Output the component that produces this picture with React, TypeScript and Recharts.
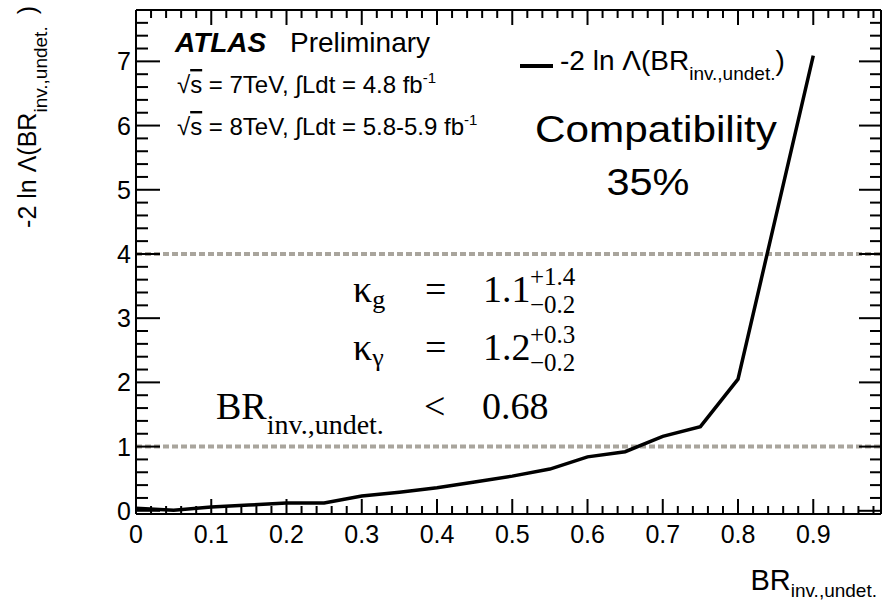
import { LineChart, Line, XAxis, YAxis, ReferenceLine } from "recharts"

// scan points of the profile likelihood
const brValues = [0, 0.05, 0.1, 0.15, 0.2, 0.25, 0.3, 0.35, 0.4, 0.45, 0.5, 0.55, 0.6, 0.65, 0.7, 0.75, 0.8, 0.85, 0.9]
const nllValues = [0.04, 0.01, 0.06, 0.09, 0.12, 0.12, 0.23, 0.29, 0.36, 0.45, 0.54, 0.65, 0.84, 0.92, 1.16, 1.31, 2.05, 4.57, 7.09]

const xTicks = [0, 0.1, 0.2, 0.3, 0.4, 0.5, 0.6, 0.7, 0.8, 0.9]
const yTicks = [0, 1, 2, 3, 4, 5, 6, 7]
const refLevels = [1, 4]

const xDomain: [number, number] = [0, 0.99]
const yDomain: [number, number] = [-0.05, 7.8]

// minor tick positions (ROOT style: 5 subdivisions)
const range = (start: number, stop: number, step: number) =>
  Array.from({ length: Math.round((stop - start) / step) + 1 }, (_, i) => +(start + i * step).toFixed(3))
const xAllTicks = range(0, 0.98, 0.02)
const yAllTicks = range(0, 7.8, 0.2)

const data = brValues.map((br, i) => ({ br, nll: nllValues[i] }))

const sans = "'Liberation Sans', Arial, Helvetica, sans-serif"
const serif = "'Liberation Serif', 'Times New Roman', serif"
const frame = { stroke: "#000", strokeWidth: 2 }

// ticks point inwards, so draw them ourselves
function BottomTick({ x, y, payload }: any) {
  const major = xTicks.includes(payload.value)
  return (
    <g>
      <line x1={x} x2={x} y1={y} y2={y - (major ? 15 : 8)} stroke="#000" strokeWidth={2} />
      {major && (
        <text x={x} y={y + 29} textAnchor="middle" fontSize={25} fill="#000">{payload.value}</text>
      )}
    </g>
  )
}

function TopTick({ x, y, payload }: any) {
  const major = xTicks.includes(payload.value)
  return <line x1={x} x2={x} y1={y} y2={y + (major ? 15 : 8)} stroke="#000" strokeWidth={2} />
}

function LeftTick({ x, y, payload }: any) {
  const major = yTicks.includes(payload.value)
  return (
    <g>
      <line x1={x} x2={x + (major ? 24 : 12)} y1={y} y2={y} stroke="#000" strokeWidth={2} />
      {major && (
        <text x={x - 5} y={y + 9} textAnchor="end" fontSize={25} fill="#000">{payload.value}</text>
      )}
    </g>
  )
}

function RightTick({ x, y, payload }: any) {
  const major = yTicks.includes(payload.value)
  return <line x1={x} x2={x - (major ? 22 : 11)} y1={y} y2={y} stroke="#000" strokeWidth={2} />
}

export default function App() {
  return (
    <div style={{ position: "absolute", left: 0, top: 0, width: 885, height: 607, background: "#fff", fontFamily: sans }}>
      <LineChart width={885} height={607} data={data} margin={{ top: 0, right: 0, bottom: 53, left: 0 }}>
        <XAxis xAxisId="x" type="number" dataKey="br" domain={xDomain} allowDataOverflow ticks={xAllTicks} interval={0}
          tick={<BottomTick />} tickSize={0} tickMargin={0} tickLine={false} axisLine={frame} height={40} />
        <XAxis xAxisId="xTop" orientation="top" type="number" dataKey="br" domain={xDomain} allowDataOverflow ticks={xAllTicks} interval={0}
          tick={<TopTick />} tickSize={0} tickMargin={0} tickLine={false} axisLine={frame} height={10} />
        <YAxis yAxisId="y" type="number" dataKey="nll" domain={yDomain} allowDataOverflow ticks={yAllTicks} interval={0}
          tick={<LeftTick />} tickSize={0} tickMargin={0} tickLine={false} axisLine={frame} width={136} />
        <YAxis yAxisId="yRight" orientation="right" type="number" dataKey="nll" domain={yDomain} allowDataOverflow ticks={yAllTicks} interval={0}
          tick={<RightTick />} tickSize={0} tickMargin={0} tickLine={false} axisLine={frame} width={4} />

        {refLevels.map((v) => (
          <ReferenceLine key={v} xAxisId="x" yAxisId="y" y={v} stroke="#a9a59d" strokeWidth={4} strokeDasharray="6 3" />
        ))}

        <Line xAxisId="x" yAxisId="y" type="linear" dataKey="nll" stroke="#000" strokeWidth={3.5} dot={false}
          isAnimationActive={false} />
      </LineChart>

      {/* labels and annotations */}
      <svg width={885} height={607} style={{ position: "absolute", left: 0, top: 0, pointerEvents: "none" }}>
        <text transform="translate(36,6) rotate(-90)" textAnchor="end" fontSize={25}>
          -2 ln Λ(BR<tspan fontSize={19} dy={11}>inv.,undet.</tspan>
          <tspan fontSize={25} dy={-11} dx={12}>)</tspan>
        </text>
        <text x={877} y={590} textAnchor="end" fontSize={29}>
          BR<tspan fontSize={19} dy={7}>inv.,undet.</tspan>
        </text>

        <text x={175} y={52} fontSize={28} fontWeight="bold" fontStyle="italic">ATLAS</text>
        <text x={290} y={52} fontSize={28}>Preliminary</text>
        <text x={177} y={93} fontSize={24}>
          √<tspan textDecoration="overline">s</tspan> = 7TeV, ∫Ldt = 4.8 fb<tspan fontSize={15} dy={-10}>-1</tspan>
        </text>
        <text x={177} y={135} fontSize={24}>
          √<tspan textDecoration="overline">s</tspan> = 8TeV, ∫Ldt = 5.8-5.9 fb<tspan fontSize={15} dy={-10}>-1</tspan>
        </text>

        <line x1={520} x2={553} y1={66} y2={66} stroke="#000" strokeWidth={4} />
        <text x={560} y={70} fontSize={28}>
          -2 ln Λ(BR<tspan fontSize={19} dy={10}>inv.,undet.</tspan>
          <tspan fontSize={28} dy={-10}>)</tspan>
        </text>

        <text x={656} y={142} fontSize={37} textAnchor="middle" textLength={242} lengthAdjust="spacingAndGlyphs">Compatibility</text>
        <text x={648} y={195} fontSize={37} textAnchor="middle" textLength={83} lengthAdjust="spacingAndGlyphs">35%</text>

        <g fontFamily={serif} fill="#000">
          <text x={353} y={302} fontSize={38}>κ<tspan fontSize={26} dy={6}>g</tspan></text>
          <text x={425} y={302} fontSize={38}>=</text>
          <text x={483} y={302} fontSize={38}>1.1</text>
          <text x={530} y={285} fontSize={25}>+1.4</text>
          <text x={530} y={313} fontSize={25}>−0.2</text>

          <text x={353} y={360} fontSize={38}>κ<tspan fontSize={26} dy={6}>γ</tspan></text>
          <text x={425} y={360} fontSize={38}>=</text>
          <text x={483} y={360} fontSize={38}>1.2</text>
          <text x={530} y={343} fontSize={25}>+0.3</text>
          <text x={530} y={371} fontSize={25}>−0.2</text>

          <text x={216} y={419} fontSize={38}>BR<tspan fontSize={28} dy={15}>inv.,undet.</tspan></text>
          <text x={424} y={419} fontSize={38}>&lt;</text>
          <text x={482} y={419} fontSize={38}>0.68</text>
        </g>
      </svg>
    </div>
  )
}
